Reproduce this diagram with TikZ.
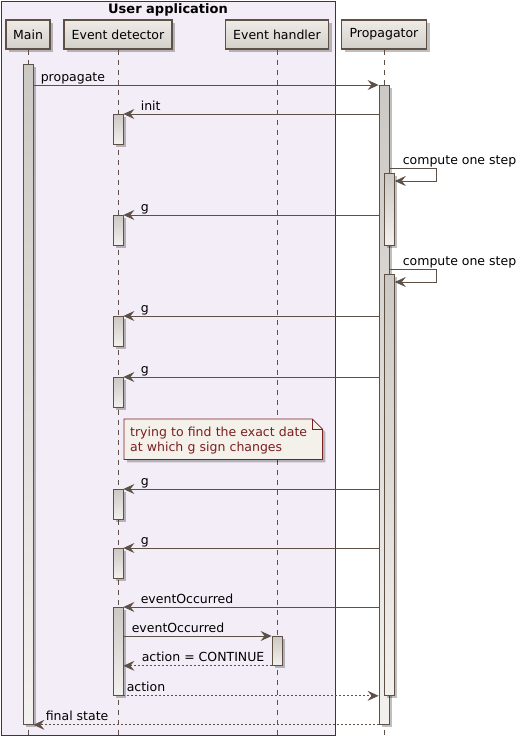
\documentclass[tikz,border=0pt]{standalone}
\usepackage{fontspec}
\setmainfont{DejaVu Sans}
\usepackage{xcolor}
\usepackage{tikz}
\usetikzlibrary{arrows.meta,shadows}
\definecolor{ink}{HTML}{5E5044}
\definecolor{boxline}{HTML}{A80036}
\definecolor{boxfill}{HTML}{F2EDF7}
\definecolor{partTop}{HTML}{EFECE8}
\definecolor{partBot}{HTML}{D3CFC9}
\definecolor{barTop}{HTML}{CCC8C3}
\definecolor{barBot}{HTML}{F3F1EE}
\definecolor{notered}{HTML}{7B1F1F}
\definecolor{notefill}{HTML}{F4F0EA}

\begin{document}
\begin{tikzpicture}[x=1pt,y=-1pt,font=\fontsize{12.5}{15}\selectfont,
    participant/.style={draw=ink,line width=1.1pt,top color=partTop,bottom color=partBot,
      minimum height=29pt,inner sep=0pt,
      drop shadow={shadow xshift=3pt,shadow yshift=-3pt,fill=black,opacity=0.25}},
    actbar/.style={draw=ink,line width=0.8pt,top color=barTop,bottom color=barBot,
      minimum width=10pt,inner sep=0pt,anchor=north,
      drop shadow={shadow xshift=2.5pt,shadow yshift=-2.5pt,fill=black,opacity=0.25}},
    lifeline/.style={draw=ink,line width=0.8pt,dash pattern=on 5pt off 5pt},
    msg/.style={draw=ink,line width=0.8pt,-{Stealth[length=11pt,width=10pt,inset=4pt]}},
    reply/.style={msg,dash pattern=on 2pt off 2pt},
    lbl/.style={text=black,inner sep=0pt,anchor=base west}]
  \useasboundingbox (0,0) rectangle (531,737);
  \coordinate (bottom) at (0,737);
  \draw[draw=boxline,fill=boxfill,line width=1pt] (1,1) rectangle (335,735);
  \node[anchor=base,font=\bfseries\fontsize{13}{15}\selectfont] (title) at (168,13) {User application};

  \node[participant,minimum width=44pt] (main) at (28,34.5) {Main};
  \node[participant,minimum width=108pt] (det) at (118,34.5) {Event detector};
  \node[participant,minimum width=103pt] (hdl) at (277,34.5) {Event handler};
  \node[participant,minimum width=85pt] (prop) at (384,34.5) {Propagator};
  \draw[lifeline] (main.south) -- (main.south |- bottom);
  \draw[lifeline] (det.south) -- (det.south |- bottom);
  \draw[lifeline] (hdl.south) -- (hdl.south |- bottom);
  \draw[lifeline] (prop.south) -- (prop.south |- bottom);

  \node[actbar,minimum height=660pt] (m0) at (main.south |- 0,64) {};
  \node[actbar,minimum height=639pt] (p0) at (prop.south |- 0,85) {};
  \node[actbar,minimum height=72pt] (c1) at (p0.east |- 0,173) {};
  \node[actbar,minimum height=421pt] (c2) at (p0.east |- 0,274) {};
  \node[actbar,minimum height=30pt] (d1) at (det.south |- 0,114) {};
  \node[actbar,minimum height=30pt] (d2) at (det.south |- 0,215) {};
  \node[actbar,minimum height=30pt] (d3) at (det.south |- 0,316) {};
  \node[actbar,minimum height=30pt] (d4) at (det.south |- 0,377) {};
  \node[actbar,minimum height=30pt] (d5) at (det.south |- 0,489) {};
  \node[actbar,minimum height=30pt] (d6) at (det.south |- 0,548) {};
  \node[actbar,minimum height=88pt] (d7) at (det.south |- 0,607) {};
  \node[actbar,minimum height=29pt] (h1) at (hdl.south |- 0,636) {};

  \draw[msg] (m0.east |- p0.north) -- (p0.north west) node[lbl,pos=0,xshift=7pt,yshift=4pt] {propagate};
  \draw[msg] (p0.west |- d1.north) -- (d1.north east) node[lbl,pos=1,xshift=17pt,yshift=4pt] {init};
  \draw[msg] ([yshift=5pt]c1.north) -- ++(47,0) node[lbl,pos=0,xshift=13pt,yshift=4pt] {compute one step}
    |- ([yshift=-8pt]c1.north east);
  \draw[msg] (p0.west |- d2.north) -- (d2.north east) node[lbl,pos=1,xshift=17pt,yshift=4pt] {g};
  \draw[msg] ([yshift=5pt]c2.north) -- ++(47,0) node[lbl,pos=0,xshift=13pt,yshift=4pt] {compute one step}
    |- ([yshift=-8pt]c2.north east);
  \draw[msg] (p0.west |- d3.north) -- (d3.north east) node[lbl,pos=1,xshift=17pt,yshift=4pt] {g};
  \draw[msg] (p0.west |- d4.north) -- (d4.north east) node[lbl,pos=1,xshift=17pt,yshift=4pt] {g};

  \node[anchor=north west,minimum width=198pt,minimum height=40pt,inner sep=0pt] (note) at (124,419) {};
  \draw[draw=notered,fill=notefill,line width=0.8pt,
    drop shadow={shadow xshift=3pt,shadow yshift=-3pt,fill=black,opacity=0.25}]
    (note.north west) -- ([xshift=-10pt]note.north east) -- ([yshift=-10pt]note.north east)
    -- (note.south east) -- (note.south west) -- cycle;
  \draw[draw=notered,line width=0.8pt] ([xshift=-10pt]note.north east) |- ([yshift=-10pt]note.north east);
  \node[anchor=north west,minimum width=198pt,minimum height=40pt,text width=186pt,
    inner xsep=6pt,inner ysep=0pt,align=left,text=notered] (notetext) at (note.north west)
    {\rule{0pt}{13pt}trying to find the exact date\\at which g sign changes};

  \draw[msg] (p0.west |- d5.north) -- (d5.north east) node[lbl,pos=1,xshift=17pt,yshift=4pt] {g};
  \draw[msg] (p0.west |- d6.north) -- (d6.north east) node[lbl,pos=1,xshift=17pt,yshift=4pt] {g};
  \draw[msg] (p0.west |- d7.north) -- (d7.north east) node[lbl,pos=1,xshift=17pt,yshift=4pt] {eventOccurred};
  \draw[msg] (d7.east |- h1.north) -- (h1.north west) node[lbl,pos=0,xshift=8pt,yshift=4pt] {eventOccurred};
  \draw[reply] (h1.south west) -- (d7.east |- h1.south) node[lbl,pos=1,xshift=18pt,yshift=4pt] {action = CONTINUE};
  \draw[reply] (d7.south east) -- (p0.west |- d7.south) node[lbl,pos=0,xshift=3pt,yshift=4pt] {action};
  \draw[reply] (p0.south west) -- (m0.south east) node[lbl,pos=1,xshift=12pt,yshift=4pt] {final state};
\end{tikzpicture}
\end{document}
